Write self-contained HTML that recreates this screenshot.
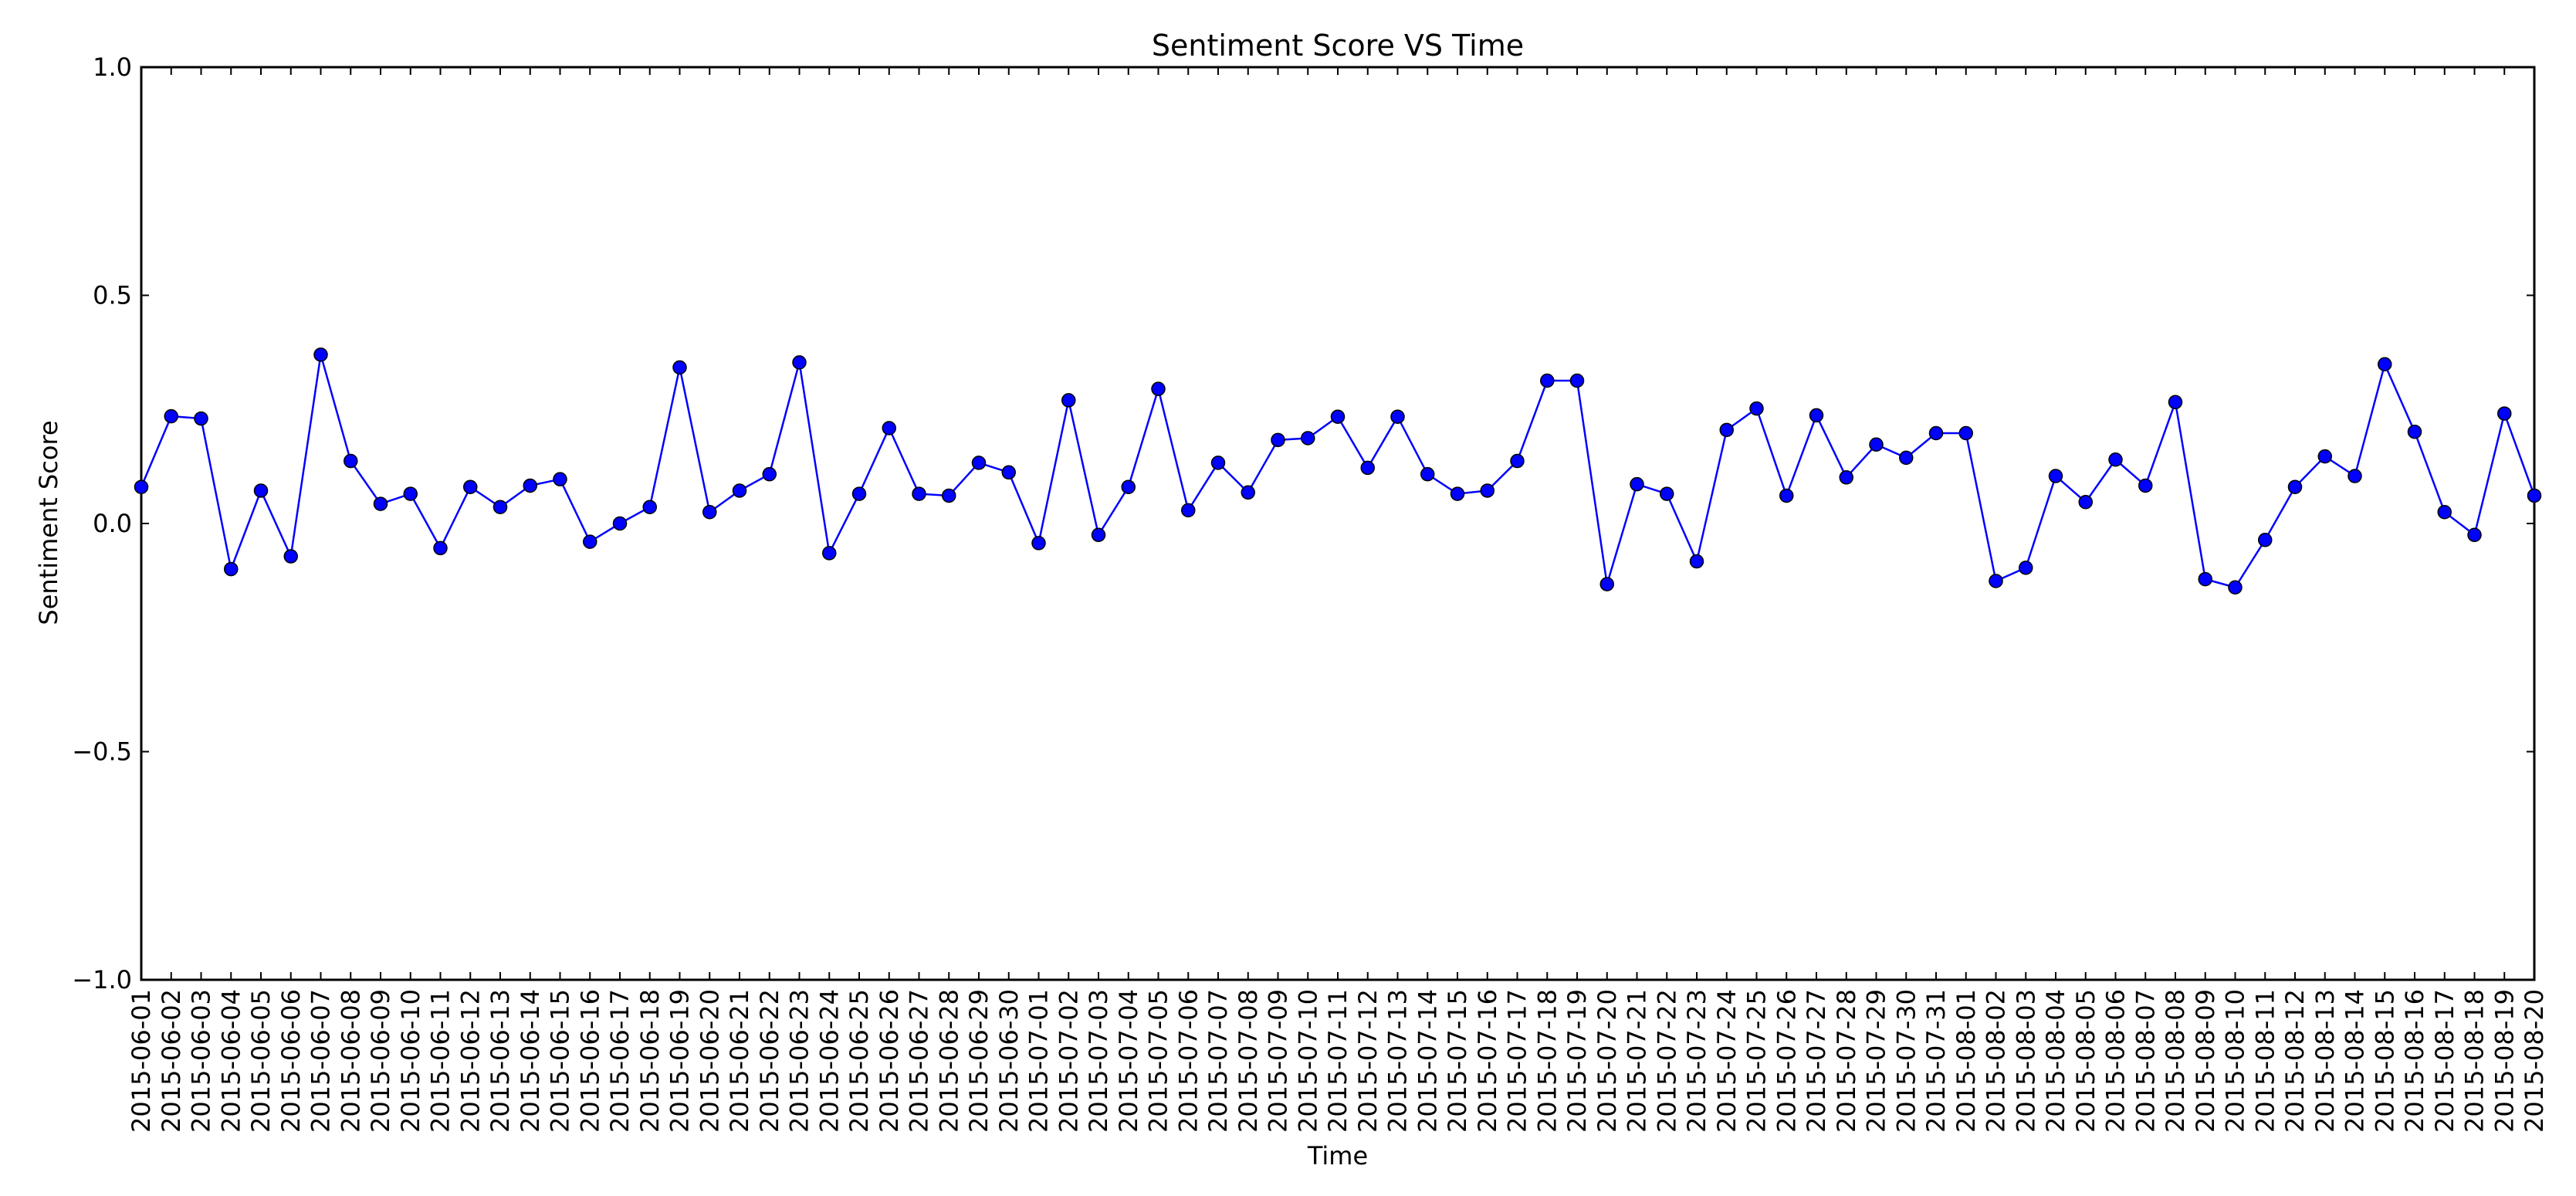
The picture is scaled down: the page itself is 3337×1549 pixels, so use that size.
<!DOCTYPE html>
<html><head><meta charset="utf-8"><style>
html,body{margin:0;padding:0;background:#fff;}
svg{display:block;font-family:"DejaVu Sans","Liberation Sans",sans-serif;}
</style></head><body>
<svg id="chart" width="3337" height="1549" viewBox="0 0 3337 1549" xmlns="http://www.w3.org/2000/svg">
<text x="1733" y="72" font-size="38" text-anchor="middle">Sentiment Score VS Time</text>
<text x="1733" y="1508" font-size="32" text-anchor="middle">Time</text>
<text x="74" y="677" font-size="32" text-anchor="middle" transform="rotate(-90 74 677)">Sentiment Score</text>
<g id="axes"></g>
<g id="series"></g>
</svg>
<script>
const categories = ["2015-06-01","2015-06-02","2015-06-03","2015-06-04","2015-06-05","2015-06-06","2015-06-07","2015-06-08","2015-06-09","2015-06-10","2015-06-11","2015-06-12","2015-06-13","2015-06-14","2015-06-15","2015-06-16","2015-06-17","2015-06-18","2015-06-19","2015-06-20","2015-06-21","2015-06-22","2015-06-23","2015-06-24","2015-06-25","2015-06-26","2015-06-27","2015-06-28","2015-06-29","2015-06-30","2015-07-01","2015-07-02","2015-07-03","2015-07-04","2015-07-05","2015-07-06","2015-07-07","2015-07-08","2015-07-09","2015-07-10","2015-07-11","2015-07-12","2015-07-13","2015-07-14","2015-07-15","2015-07-16","2015-07-17","2015-07-18","2015-07-19","2015-07-20","2015-07-21","2015-07-22","2015-07-23","2015-07-24","2015-07-25","2015-07-26","2015-07-27","2015-07-28","2015-07-29","2015-07-30","2015-07-31","2015-08-01","2015-08-02","2015-08-03","2015-08-04","2015-08-05","2015-08-06","2015-08-07","2015-08-08","2015-08-09","2015-08-10","2015-08-11","2015-08-12","2015-08-13","2015-08-14","2015-08-15","2015-08-16","2015-08-17","2015-08-18","2015-08-19","2015-08-20"];
const scores = [0.08,0.235,0.23,-0.10,0.072,-0.072,0.37,0.137,0.043,0.065,-0.054,0.08,0.036,0.083,0.097,-0.04,0.0,0.036,0.342,0.025,0.072,0.108,0.353,-0.065,0.065,0.209,0.065,0.061,0.133,0.112,-0.043,0.27,-0.025,0.08,0.295,0.029,0.133,0.068,0.183,0.187,0.234,0.122,0.234,0.108,0.065,0.072,0.137,0.313,0.313,-0.133,0.086,0.065,-0.083,0.205,0.252,0.061,0.237,0.101,0.173,0.144,0.198,0.198,-0.126,-0.097,0.104,0.047,0.14,0.083,0.266,-0.122,-0.14,-0.036,0.08,0.147,0.104,0.349,0.201,0.025,-0.025,0.241,0.061];
const yTicks = [1.0,0.5,0.0,-0.5,-1.0];
const yTickLabels = ["1.0","0.5","0.0","\u22120.5","\u22121.0"];

const L=183,R=3283,T=87,B=1269;
const NS="http://www.w3.org/2000/svg";
const xScale=i=>L+(R-L)*i/(categories.length-1);
const yScale=v=>T+(B-T)*(1-v)/2;
function mk(tag,attrs,parent){const e=document.createElementNS(NS,tag);for(const k in attrs)e.setAttribute(k,attrs[k]);parent.appendChild(e);return e;}
const axes=document.getElementById('axes');
const series=document.getElementById('series');

const frame=mk('rect',{x:L,y:T,width:R-L,height:B-T,fill:'none',stroke:'#000','stroke-width':3},axes);



yTicks.forEach((v,i)=>{
  const y=yScale(v);
  const t1=mk('line',{x1:L,x2:L+10,y1:y,y2:y,stroke:'#000','stroke-width':2},axes);
  
  
  const t2=mk('line',{x1:R-10,x2:R,y1:y,y2:y,stroke:'#000','stroke-width':2},axes);
  
  
  const lb=mk('text',{x:L-12,y:y+11,'font-size':32,'text-anchor':'end'},axes);
  lb.textContent=yTickLabels[i];
  
  
});

categories.forEach((c,i)=>{
  const x=xScale(i);
  const t=mk('line',{x1:x,x2:x,y1:B,y2:B-10,stroke:'#000','stroke-width':2},axes);
  
  
  const tt=mk('line',{x1:x,x2:x,y1:T,y2:T+10,stroke:'#000','stroke-width':2},axes);
  
  
  const lb=mk('text',{x:x+11,y:B+12,'font-size':32,'text-anchor':'end',transform:`rotate(-90 ${x+11} ${B+12})`},axes);
  lb.textContent=c;
  
  
});

const pts=scores.map((v,i)=>xScale(i)+','+yScale(v)).join(' ');
const line=mk('polyline',{points:pts,fill:'none',stroke:'#0000ff','stroke-width':2.5},series);


scores.forEach((v,i)=>{
  const p=mk('circle',{cx:xScale(i),cy:yScale(v),r:8.5,fill:'#0000ff',stroke:'#000','stroke-width':1.5},series);
  
  
});
</script>
</body></html>
